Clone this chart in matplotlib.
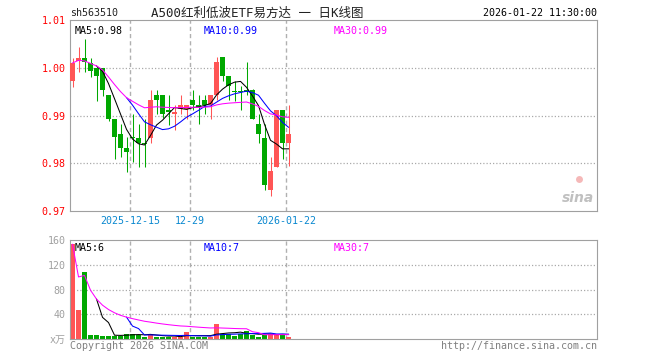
import numpy as np
import pandas as pd
import matplotlib
matplotlib.use('Agg')
import matplotlib.pyplot as plt

plt.rcParams['font.family'] = ['DejaVu Sans Mono', 'Noto Sans CJK SC']

# daily K data, 2025-12-01 .. 2026-01-22 (37 trading days)
opens = [0.9972, 1.0014, 1.0021, 1.0010, 1.0000, 1.0000, 0.9942, 0.9892, 0.9861, 0.9832,
         0.9853, 0.9853, 0.9842, 0.9853, 0.9942, 0.9942, 0.9912, 0.9904, 0.9913, 0.9913,
         0.9932, 0.9922, 0.9932, 0.9922, 0.9942, 1.0022, 0.9983, 0.9951, 0.9951, 0.9954,
         0.9953, 0.9882, 0.9852, 0.9743, 0.9792, 0.9911, 0.9842]
closes = [1.0010, 1.0021, 1.0012, 0.9993, 0.9983, 0.9954, 0.9892, 0.9854, 0.9832, 0.9823,
          0.9853, 0.9842, 0.9841, 0.9932, 0.9932, 0.9904, 0.9908, 0.9908, 0.9922, 0.9922,
          0.9922, 0.9917, 0.9922, 0.9942, 1.0012, 0.9983, 0.9962, 0.9950, 0.9950, 0.9950,
          0.9892, 0.9861, 0.9754, 0.9783, 0.9911, 0.9842, 0.9861]
highs = [1.0021, 1.0043, 1.0060, 1.0021, 1.0004, 1.0000, 0.9942, 0.9892, 0.9882, 0.9854,
         0.9903, 0.9882, 0.9892, 0.9953, 0.9953, 0.9942, 0.9942, 0.9922, 0.9942, 0.9922,
         0.9953, 0.9942, 0.9942, 0.9942, 1.0022, 1.0022, 0.9983, 0.9972, 0.9962, 1.0012,
         0.9956, 0.9903, 0.9882, 0.9813, 0.9911, 0.9911, 0.9922]
lows = [0.9960, 0.9991, 0.9991, 0.9981, 0.9931, 0.9940, 0.9889, 0.9809, 0.9813, 0.9781,
        0.9802, 0.9792, 0.9792, 0.9842, 0.9903, 0.9895, 0.9881, 0.9869, 0.9904, 0.9892,
        0.9911, 0.9882, 0.9903, 0.9892, 0.9932, 0.9972, 0.9932, 0.9931, 0.9911, 0.9942,
        0.9892, 0.9842, 0.9743, 0.9731, 0.9792, 0.9809, 0.9794]
# volume, x万
vols = [153, 47.6, 107.6, 7.1, 7.1, 5.5, 5.5, 5.5, 5.5, 8.8,
        8.8, 7.1, 3.8, 8.8, 3.8, 3.8, 3.8, 3.8, 3.8, 12.0,
        3.8, 3.8, 3.8, 3.8, 23.6, 8.8, 8.8, 5.5, 8.8, 13.7,
        7.1, 3.8, 7.1, 8.8, 8.8, 8.8, 3.8]

date_idx = [10, 20, 36]
date_lbl = ['2025-12-15', '12-29', '2026-01-22']
price_ticks = [0.97, 0.98, 0.99, 1.00, 1.01]
vol_ticks = [0, 40, 80, 120, 160]
vol_tick_lbl = ['x万', '40', '80', '120', '160']

RED = '#ff5555'
GRN = '#00a800'
GRAY = '#a0a0a0'

o = np.array(opens); c = np.array(closes)
h = np.array(highs); l = np.array(lows)
v = np.array(vols)
n = len(c)
x = np.arange(n) + 0.42
up = c > o
cols = np.where(up, RED, GRN)

cs = pd.Series(c)
ma5 = cs.rolling(5).mean()
ma10 = cs.rolling(10).mean()
ma30 = cs.rolling(30, min_periods=1).mean()
vs = pd.Series(v)
vma5 = vs.rolling(5).mean()
vma10 = vs.rolling(10).mean()
vma30 = vs.rolling(30, min_periods=1).mean()

W, H = 660, 360
fig = plt.figure(figsize=(6.6, 3.6), dpi=100)
fig.patch.set_facecolor('white')


def px_axes(x0, y0, x1, y1):
    return fig.add_axes([x0 / W, 1 - y1 / H, (x1 - x0) / W, (y1 - y0) / H])


def px_text(xp, yp, s, **kw):
    fig.text(xp / W, 1 - yp / H, s, **kw)


ax = px_axes(70, 20, 597, 211)
axv = px_axes(70, 240, 597, 339)

for a in (ax, axv):
    a.set_xlim(0, 527 / 6)
    for sp in a.spines.values():
        sp.set_color(GRAY)
        sp.set_linewidth(0.8)
    a.tick_params(length=0)
    for xi in date_idx:
        a.axvline(xi, color='#b0b0b0', lw=1.0, ls=(0, (3, 2.2)), zorder=0)

# price panel
ax.set_ylim(0.97, 1.01)
for yy in price_ticks[1:-1]:
    ax.axhline(yy, color='#aaaaaa', lw=0.9, ls=(0, (1, 1.6)), zorder=0)
ax.vlines(x, l, h, colors=cols, lw=0.75, zorder=2)
body = np.maximum(np.abs(c - o), 0.00015)
ax.bar(x, body, bottom=np.minimum(o, c), width=0.8, color=cols, lw=0, zorder=3)
ax.plot(x, ma5, color='black', lw=0.75, zorder=4)
ax.plot(x, ma10, color='blue', lw=0.75, zorder=4)
ax.plot(x, ma30, color='magenta', lw=0.75, zorder=4)
ax.set_yticks(price_ticks)
ax.set_yticklabels(['%.2f' % t for t in price_ticks], color='red', fontsize=7.2)
ax.set_xticks(date_idx)
ax.set_xticklabels(date_lbl, color='#0a88d0', fontsize=7.2)
ax.tick_params(axis='y', pad=3)
ax.tick_params(axis='x', pad=3.5)

ax.text(5 / 527, 0.97, 'MA5:%.2f' % ma5.iloc[-1], transform=ax.transAxes,
        color='black', fontsize=7.2, va='top')
ax.text(134 / 527, 0.97, 'MA10:%.2f' % ma10.iloc[-1], transform=ax.transAxes,
        color='blue', fontsize=7.2, va='top')
ax.text(264 / 527, 0.97, 'MA30:%.2f' % ma30.iloc[-1], transform=ax.transAxes,
        color='magenta', fontsize=7.2, va='top')

# sina logo
ax.text(0.995, 0.03, 'sina', transform=ax.transAxes, ha='right', va='bottom',
        color='#c0c0c0', fontsize=10, style='italic', weight='bold',
        family='DejaVu Sans')
ax.plot([0.965], [0.17], 'o', transform=ax.transAxes, ms=5, color='#f5b8b8',
        mec='none', zorder=1)

# volume panel
axv.set_ylim(0, 160)
for yy in vol_ticks[1:-1]:
    axv.axhline(yy, color='#aaaaaa', lw=0.9, ls=(0, (1, 1.6)), zorder=0)
axv.bar(x, v, width=0.8, color=cols, lw=0, zorder=2)
axv.plot(x, vma5, color='black', lw=0.75, zorder=4)
axv.plot(x, vma10, color='blue', lw=0.75, zorder=4)
axv.plot(x, vma30, color='magenta', lw=0.75, zorder=4)
axv.set_yticks(vol_ticks)
axv.set_yticklabels(vol_tick_lbl, color=GRAY, fontsize=7.2)
axv.tick_params(axis='y', pad=3)
axv.set_xticks([])

axv.text(5 / 527, 0.97, 'MA5:6', transform=axv.transAxes,
         color='black', fontsize=7.2, va='top')
axv.text(134 / 527, 0.97, 'MA10:7', transform=axv.transAxes,
         color='blue', fontsize=7.2, va='top')
axv.text(264 / 527, 0.97, 'MA30:7', transform=axv.transAxes,
         color='magenta', fontsize=7.2, va='top')

# header / footer
px_text(70, 13, 'sh563510', color='#222222', fontsize=7.2, va='center')
px_text(151, 13, 'A500红利低波ETF易方达 一 日K线图', color='#222222',
        fontsize=9, va='center')
px_text(597, 13, '2026-01-22 11:30:00', color='black', fontsize=7.2,
        va='center', ha='right')
px_text(70, 346, 'Copyright 2026 SINA.COM', color='#808080', fontsize=7.2,
        va='center')
px_text(597, 346, 'http://finance.sina.com.cn', color='#808080', fontsize=7.2,
        va='center', ha='right')

fig.savefig('out.png', dpi=100, facecolor='white')
